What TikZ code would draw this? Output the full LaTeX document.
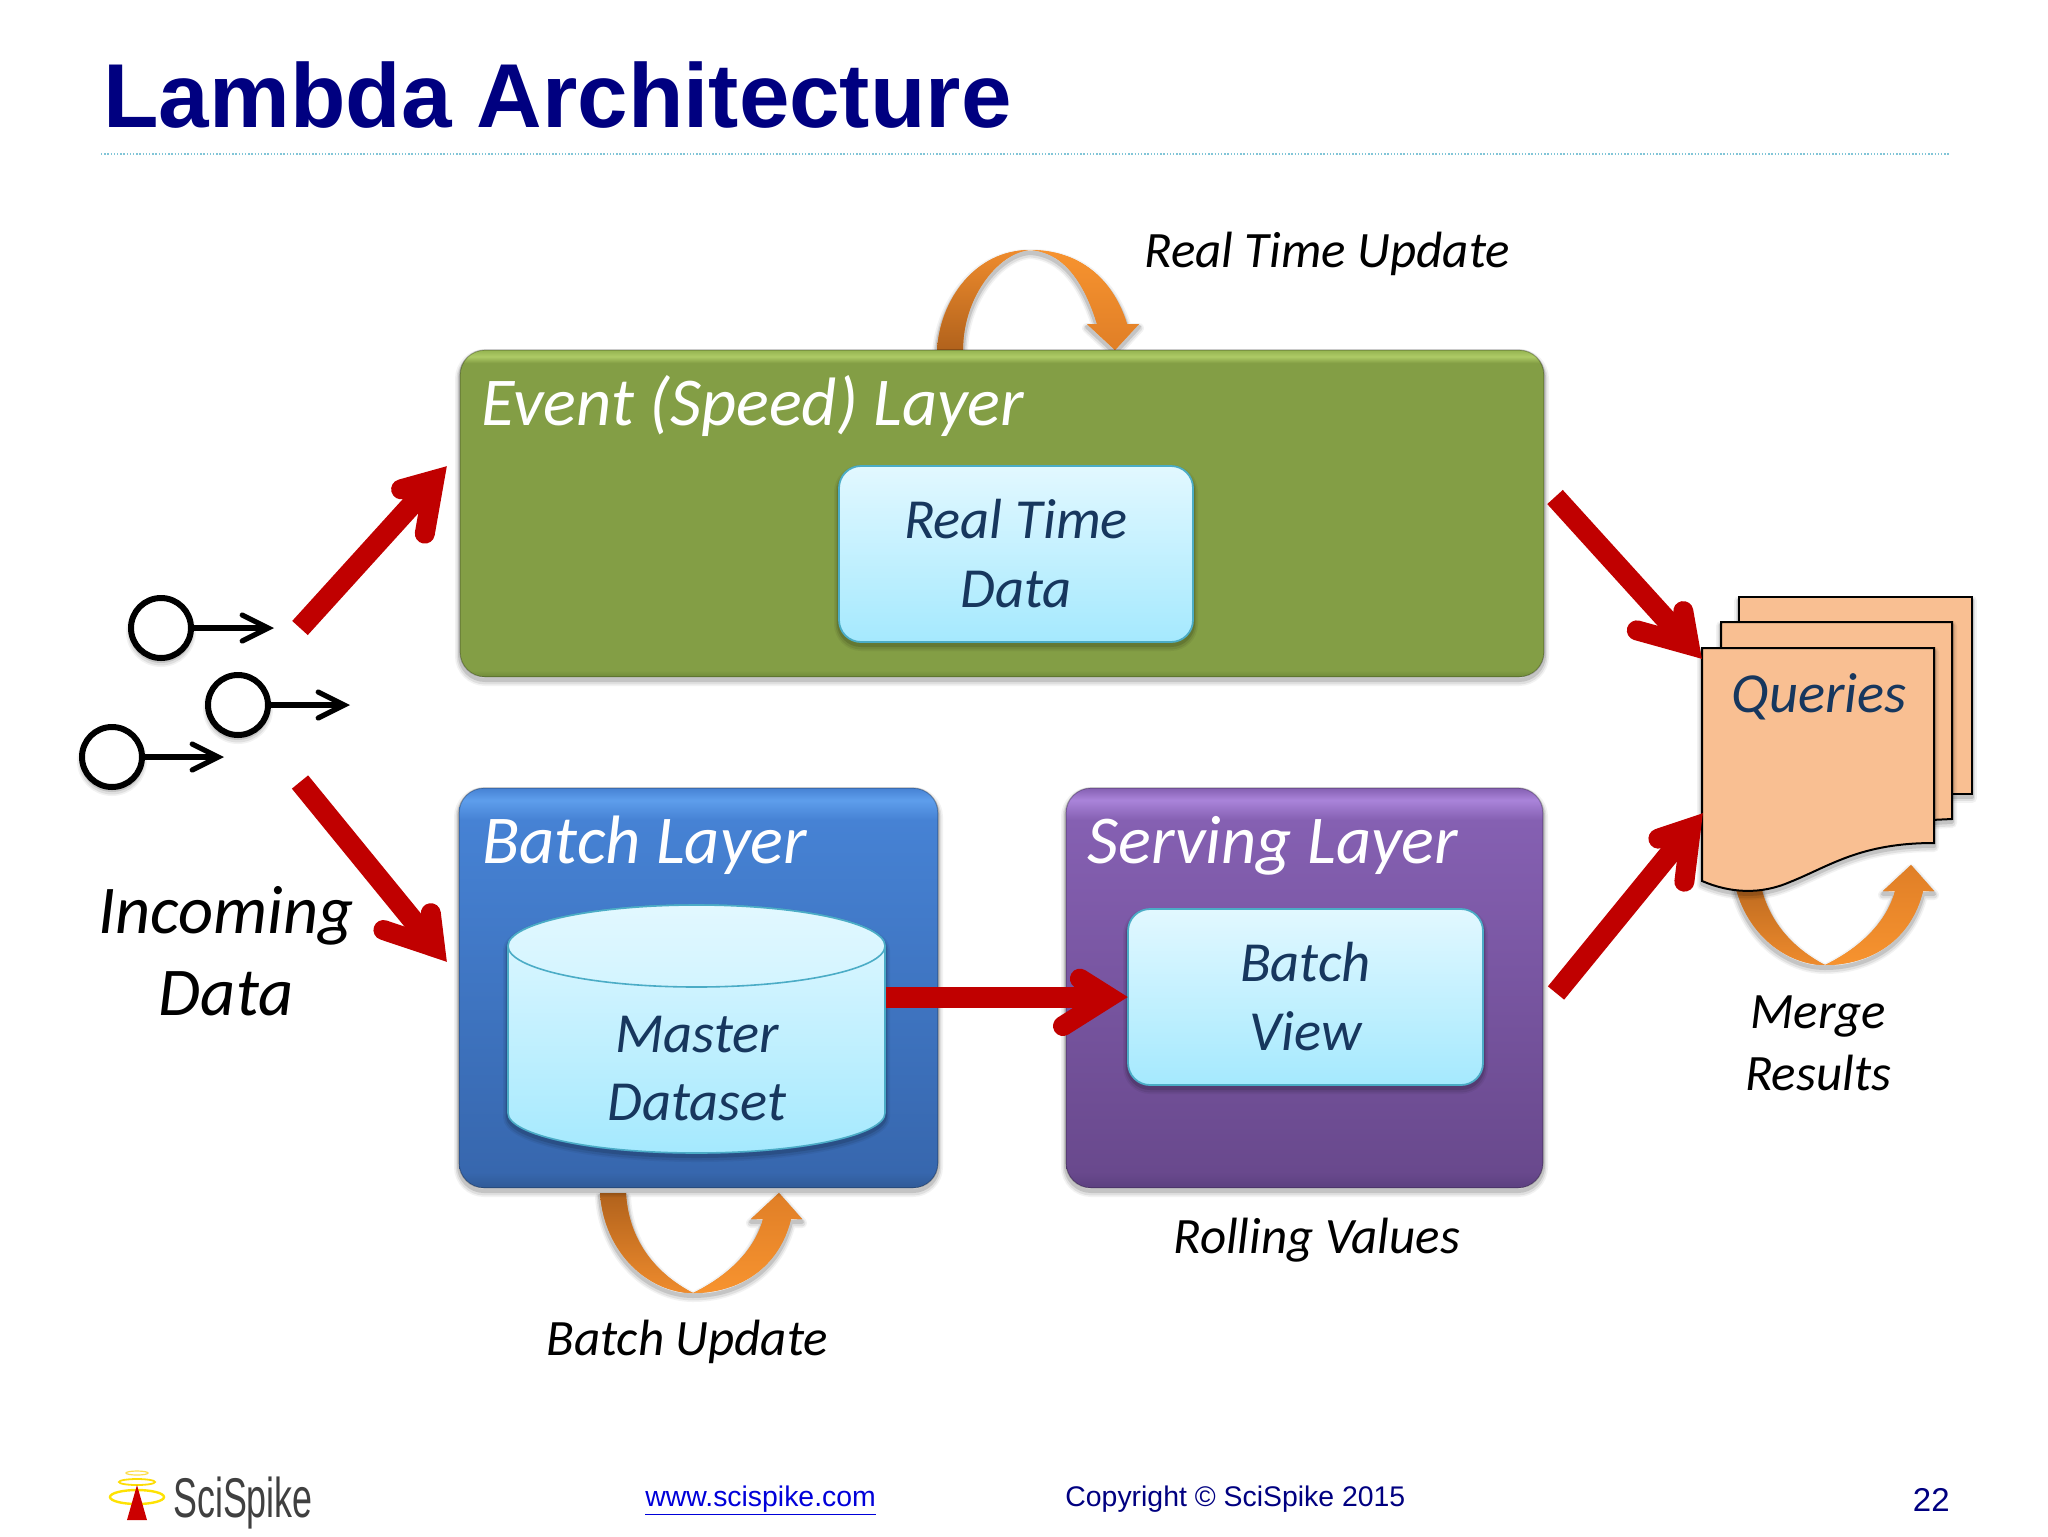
\documentclass[tikz,border=0pt]{standalone}
\usepackage{fontspec}
\setmainfont{Carlito}
\newfontfamily\arialf{Liberation Sans}
\usetikzlibrary{arrows.meta,shadows,calc,shapes.geometric}
\definecolor{redarrow}{HTML}{C00000}
\definecolor{navytitle}{HTML}{000080}
\definecolor{boxtext}{HTML}{17375E}
\definecolor{boxedge}{HTML}{4BACC6}
\definecolor{gA}{HTML}{6E8A38}\definecolor{gB}{HTML}{839E45}\definecolor{gC}{HTML}{AECB66}\definecolor{gD}{HTML}{94B350}
\definecolor{bA}{HTML}{2F5A96}\definecolor{bB}{HTML}{3767AE}\definecolor{bC}{HTML}{4682D4}\definecolor{bD}{HTML}{5E9EEC}
\definecolor{pA}{HTML}{5C4080}\definecolor{pB}{HTML}{69498D}\definecolor{pC}{HTML}{8560B2}\definecolor{pD}{HTML}{AA84DA}
\definecolor{cA}{HTML}{A5E9FE}\definecolor{cB}{HTML}{E2F8FF}
\definecolor{oA}{HTML}{B1621C}\definecolor{oB}{HTML}{EE8B2D}\definecolor{oC}{HTML}{F7932F}\definecolor{oD}{HTML}{E07F27}
\definecolor{sheet}{HTML}{F9BF92}
\pgfdeclareverticalshading{greenbox}{100bp}{color(0bp)=(gA); color(25bp)=(gA); color(26bp)=(gB); color(73bp)=(gB); color(74bp)=(gC); color(75bp)=(gD); color(100bp)=(gD)}
\pgfdeclareverticalshading{bluebox}{100bp}{color(0bp)=(bA); color(25bp)=(bA); color(27bp)=(bB); color(71bp)=(bC); color(73.5bp)=(bD); color(75bp)=(bC); color(100bp)=(bC)}
\pgfdeclareverticalshading{purplebox}{100bp}{color(0bp)=(pA); color(25bp)=(pA); color(27bp)=(pB); color(71bp)=(pC); color(73.5bp)=(pD); color(75bp)=(pC); color(100bp)=(pC)}
\tikzset{
  softsh/.style={
    general shadow={shadow yshift=-2pt, draw=black, fill=none, line width=5pt, opacity=.05, line join=round},
    general shadow={shadow yshift=-2pt, draw=black, fill=none, line width=3.4pt, opacity=.08, line join=round},
    general shadow={shadow yshift=-1.5pt, draw=black, fill=none, line width=2pt, opacity=.12, line join=round}},
  layerbox/.style={rectangle, rounded corners=12.5pt, inner sep=0pt, outer sep=0pt, softsh, draw=black, draw opacity=.25, line width=.6pt, anchor=north west},
  innerbox/.style={rectangle, rounded corners=11pt, inner sep=0pt, outer sep=0pt, softsh, draw=boxedge, line width=.9pt, top color=cB, bottom color=cA, text=boxtext, align=center, font=\fontsize{28.3}{34.5}\selectfont\itshape, anchor=north west},
  layertitle/.style={text=white, anchor=base west, inner sep=0pt, font=\fontsize{34.25}{40}\selectfont\itshape},
  blacklabel/.style={text=black, inner sep=0pt, anchor=base, font=\fontsize{25.5}{31}\selectfont\itshape},
  bodylabel/.style={text=boxtext, inner sep=0pt, align=center, font=\fontsize{28.3}{34}\selectfont\itshape},
  redshaft/.style={draw=redarrow, line width=10.5pt, shorten >=10pt},
  redhead/.pic={\draw[draw=redarrow, line width=10pt, line cap=round, line join=miter, miter limit=20] (-65,29)--(-19,0)--(-65,-29);},
  dot/.style={circle, draw=black, fill=white, line width=3pt, minimum size=30pt, inner sep=0pt, outer sep=1.5pt, softsh},
  dotarrow/.style={draw=black, line width=2.6pt, -{Straight Barb[length=13pt,width=13pt,line cap=round,line join=miter]}},
  sheetstyle/.style={draw=black, fill=sheet, line width=1pt, softsh},
  footer/.style={inner sep=0pt, anchor=base west, font=\arialf\fontsize{14.2}{17}\selectfont},
  uarrowpic/.pic={
    \path[softsh, fill=oB] (-179,0) .. controls (-175,60) and (-130,100) .. (-86,100) .. controls (-40,100) and (0,75) .. (12,26) -- (23,26) -- (0,0) -- (-28,26) -- (-16,26) .. controls (-25,60) and (-55,85) .. (-86,100) .. controls (-115,85) and (-150,55) .. (-153,0) -- cycle;
    \path[top color=oA, bottom color=oB] (-179,0) .. controls (-175,60) and (-130,100) .. (-86,100) .. controls (-115,85) and (-150,55) .. (-153,0) -- cycle;
    \path[top color=oD, bottom color=oC] (-86,100) .. controls (-40,100) and (0,75) .. (12,26) -- (23,26) -- (0,0) -- (-28,26) -- (-16,26) .. controls (-25,60) and (-55,85) .. (-86,100) -- cycle;
  }
}
\begin{document}
\begin{tikzpicture}[x=.5pt,y=-.5pt]
\useasboundingbox (0,0) rectangle (2048,1536);
% title
\node[inner sep=0pt, anchor=base west, text=navytitle, font=\arialf\bfseries\fontsize{45.4}{50}\selectfont] (title) at (103,127) {Lambda Architecture};
\coordinate (ruleL) at (101,154);
\coordinate (ruleR) at (1950,154);
\draw[draw=boxedge!70, line width=.7pt, dash pattern=on .7pt off .9pt] (ruleL) -- (ruleR);

% curved orange arrows behind the boxes
\path[softsh, fill=oB] (937,350) .. controls (940,300) and (975,250) .. (1030,250) .. controls (1085,250) and (1115,285) .. (1127,324) -- (1139,324) -- (1115,350) -- (1087,324) -- (1097,324) .. controls (1085,285) and (1065,252) .. (1030,250) .. controls (1000,252) and (963,295) .. (963,350) -- cycle;
\path[top color=oB, bottom color=oA] (937,350) .. controls (940,300) and (975,250) .. (1030,250) .. controls (1000,252) and (963,295) .. (963,350) -- cycle;
\path[top color=oC, bottom color=oD] (1030,250) .. controls (1085,250) and (1115,285) .. (1127,324) -- (1139,324) -- (1115,350) -- (1087,324) -- (1097,324) .. controls (1085,285) and (1065,252) .. (1030,250) -- cycle;
\pic at (779,1193) {uarrowpic};
\pic at (1911,865) {uarrowpic};

% layers
\node[layerbox, shading=greenbox, minimum width=542pt, minimum height=163.5pt] (event) at (460,350) {};
\node[layerbox, shading=bluebox, minimum width=239.5pt, minimum height=200pt] (batch) at (459,788) {};
\node[layerbox, shading=purplebox, minimum width=238.5pt, minimum height=200pt] (serving) at (1066,788) {};
\node[layertitle] (eventT) at (481,425) {Event (Speed) Layer};
\node[layertitle] (batchT) at (482,863.5) {Batch Layer};
\node[layertitle] (servingT) at (1087,863.5) {Serving Layer};

% inner boxes
\node[innerbox, minimum width=177pt, minimum height=88pt] (rtd) at (839,466) {Real Time\\Data};
\node[innerbox, minimum width=177.5pt, minimum height=88pt] (view) at (1128,909) {Batch\\View};

% cylinder
\path[softsh] (508,946) -- (508,1113) arc[start angle=180, end angle=0, x radius=188.5, y radius=40] -- (885,946) arc[start angle=0, end angle=-180, x radius=188.5, y radius=41] -- cycle;
\path[top color=cB, bottom color=cA, draw=boxedge, line width=.8pt] (508,946) -- (508,1113) arc[start angle=180, end angle=0, x radius=188.5, y radius=40] -- (885,946) arc[start angle=0, end angle=-180, x radius=188.5, y radius=41] -- cycle;
\path[top color=cB, bottom color=cB!75!cA, draw=boxedge, line width=.8pt] (696.5,946) ellipse[x radius=188.5, y radius=41];
\node[bodylabel] (master) at (697,1068.5) {Master\\Dataset};
\coordinate (cylE) at (886,997);

% stacked sheets
\path[sheetstyle] (1739,597) -- (1972,597) -- (1972,794) -- (1739,794) -- cycle;
\path[sheetstyle] (1721,622) -- (1952,622) -- (1952,819) -- (1721,830) -- cycle;
\path[sheetstyle] (1702,648) -- (1934,648) -- (1934,843) .. controls (1860,843) and (1830,866) .. (1790,882) .. controls (1760,895) and (1730,893) .. (1702,881) -- cycle;
\node[inner sep=0pt, anchor=base, text=boxtext, font=\fontsize{28.3}{34}\selectfont\itshape] (queries) at (1819,712) {Queries};
\coordinate (docA) at (1702,659);
\coordinate (docB) at (1703,813);

% red arrows
\coordinate (inUpS) at (300,628);
\coordinate (inUpE) at (447,466);
\coordinate (inDnS) at (300,782);
\coordinate (inDnE) at (447,962);
\coordinate (rtS) at (1555,497);
\coordinate (srvS) at (1556,993);
\draw[redshaft] (inUpS) -- (inUpE) pic[pos=1,sloped]{redhead};
\draw[redshaft] (inDnS) -- (inDnE) pic[pos=1,sloped]{redhead};
\draw[redshaft] (rtS) -- (docA) pic[pos=1,sloped]{redhead};
\draw[redshaft] (srvS) -- (docB) pic[pos=1,sloped]{redhead};
\draw[redshaft] (cylE) -- (view.west) pic[pos=1,sloped]{redhead};

% incoming data
\node[dot] (d1) at (161,628) {};
\node[dot] (d2) at (238,705) {};
\node[dot] (d3) at (112,757) {};
\coordinate (d1e) at (274,628);
\coordinate (d2e) at (350,705);
\coordinate (d3e) at (224,757);
\draw[dotarrow] (d1) -- (d1e);
\draw[dotarrow] (d2) -- (d2e);
\draw[dotarrow] (d3) -- (d3e);
\node[text=black, inner sep=0pt, align=center, font=\fontsize{34.2}{41}\selectfont\itshape] (incoming) at (226,951) {Incoming\\Data};

% labels
\node[blacklabel, anchor=base west] (rtu) at (1144,267.5) {Real Time Update};
\node[blacklabel, anchor=base west] (rolling) at (1173,1253) {Rolling Values};
\node[blacklabel, anchor=base west] (bu) at (546,1355) {Batch Update};
\node[inner sep=0pt, text=black, align=center, font=\fontsize{25.5}{31}\selectfont\itshape] (merge) at (1818,1043) {Merge\\Results};

% footer logo
\draw[yellow!85!orange, line width=1.2pt] (137,1497) ellipse[x radius=27, y radius=7];
\draw[yellow!80!orange, line width=.9pt] (137,1482) ellipse[x radius=18, y radius=3];
\draw[yellow!70!orange!70, line width=.6pt] (137,1473) ellipse[x radius=11, y radius=2];
\fill[red!80!black] (137,1485) -- (147,1520) -- (127,1520) -- cycle;
\node[inner sep=0pt, anchor=base west, xscale=.64, text=black!75, font=\arialf\fontsize{28}{30}\selectfont] (logo) at (173,1517) {SciSpike};
\node[footer, text=blue!85!black] (www) at (645,1506) {\underline{www.scispike.com}};
\node[footer, text=navytitle] (copy) at (1065,1506) {Copyright © SciSpike 2015};
\node[inner sep=0pt, anchor=base east, text=navytitle, font=\arialf\fontsize{16.5}{18}\selectfont] (pageno) at (1950,1511) {22};
\end{tikzpicture}
\end{document}
